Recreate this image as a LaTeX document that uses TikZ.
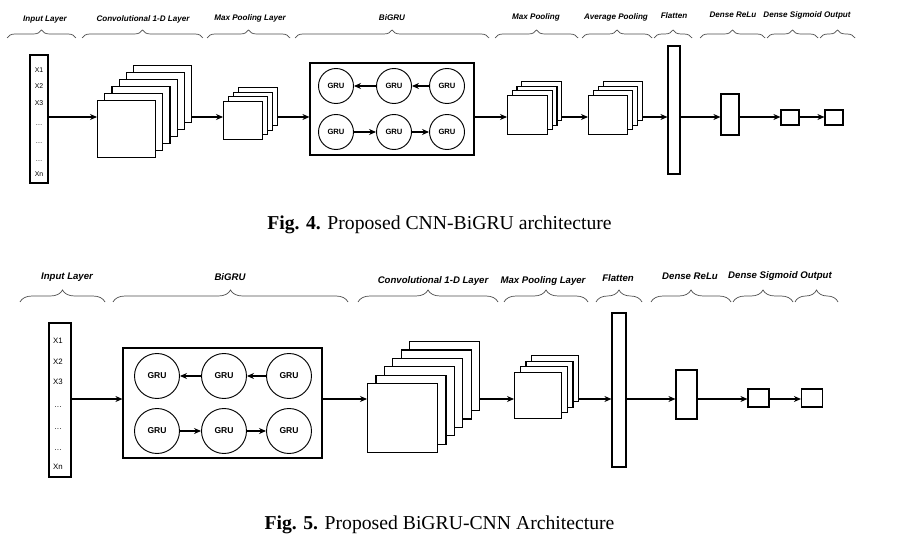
\documentclass[tikz,border=0pt]{standalone}
\usepackage{fontspec}
\setmainfont{Liberation Serif}
\setsansfont{Liberation Sans}
\usetikzlibrary{decorations.pathreplacing, arrows.meta}

\tikzset{
  layer/.style={draw, fill=white, line width=1pt, inner sep=0pt, anchor=north west},
  unit/.style={draw, line width=1pt, inner sep=0pt},
  gru/.style={draw, circle, line width=0.8pt, inner sep=0pt, font=\sffamily\bfseries\fontsize{#1}{#1}\selectfont},
  head/.style={font=\sffamily\bfseries\itshape\fontsize{#1}{#1}\selectfont},
  xin/.style={font=\sffamily\fontsize{#1}{#1}\selectfont},
  brc/.style={draw=black!70, line width=0.6pt, decorate, decoration={brace, amplitude=#1}},
  figcap/.style={font=\fontsize{16.8}{20}\selectfont}
}

\begin{document}
\begin{tikzpicture}[x=0.3mm, y=-0.3mm, >={Stealth[length=2.1mm, width=1.8mm]}, line width=0.9pt]
    \useasboundingbox (0,0) rectangle (907,552);

    % Fig. 4: CNN-BiGRU
    \coordinate (rowA) at (0,117);
    \node (hInA) [head=6.9] at (45,20) {Input Layer};
    \node (hConvA) [head=6.9] at (143,19) {Convolutional 1-D Layer};
    \node (hPoolA) [head=6.9] at (250,18) {Max Pooling Layer};
    \node (hGruA) [head=6.9] at (392,18) {BiGRU};
    \node (hMaxA) [head=6.9] at (536,17) {Max Pooling};
    \node (hAvgA) [head=6.9] at (616,17) {Average Pooling};
    \node (hFlatA) [head=6.9] at (674,16) {Flatten};
    \node (hReluA) [head=6.9] at (733,15) {Dense ReLu};
    \node (hOutA) [head=6.9] at (807,15) {Dense Sigmoid Output};
    \foreach \a/\b in {7/76, 82/203, 207/290, 295/489, 495/578, 582/652, 654/692, 700/765, 767/818, 820/855}
        \draw[brc=2.4mm] (\a,38) -- (\b,38);

    \node (inA) [unit, minimum width=5.4mm, minimum height=38.4mm] at (39,119) {};
    \foreach \t/\y [count=\k] in {X1/70, X2/86, X3/103, \ldots/125, \ldots/143, \ldots/161, Xn/174}
        \node (xA\k) [xin=5.9] at (39,\y) {\t};

    \foreach \i in {5,...,0}
        \node (convA\i) [layer, minimum width=17.4mm, minimum height=17.1mm] at (97+7.2*\i,100-7*\i) {};
    \foreach \i in {3,...,0}
        \node (poolA\i) [layer, minimum width=11.7mm, minimum height=11.4mm] at (223+5*\i,101-4.7*\i) {};

    \node (gruA) [unit, minimum width=49.2mm, minimum height=27.6mm] at (392,109) {};
    \node (gA1) [gru=6.5, minimum size=10.5mm] at (336,86) {GRU};
    \node (gA2) [gru=6.5, minimum size=10.5mm] at (394,86) {GRU};
    \node (gA3) [gru=6.5, minimum size=10.5mm] at (447,86) {GRU};
    \node (gA4) [gru=6.5, minimum size=10.5mm] at (336,132) {GRU};
    \node (gA5) [gru=6.5, minimum size=10.5mm] at (394,132) {GRU};
    \node (gA6) [gru=6.5, minimum size=10.5mm] at (447,132) {GRU};

    \foreach \i in {3,...,0}
        \node (maxA\i) [layer, minimum width=12mm, minimum height=11.7mm] at (507+4.7*\i,95-4.7*\i) {};
    \foreach \i in {3,...,0}
        \node (avgA\i) [layer, minimum width=11.7mm, minimum height=11.7mm] at (588+5*\i,95-4.7*\i) {};

    \node (flatA) [unit, minimum width=3.6mm, minimum height=38.4mm] at (674,110) {};
    \node (reluA) [unit, minimum width=5.4mm, minimum height=12.3mm] at (730,114.5) {};
    \node (sigA) [unit, minimum width=5.4mm, minimum height=4.5mm] at (790,117.5) {};
    \node (outA) [unit, minimum width=5.4mm, minimum height=4.5mm] at (834,117.5) {};

    \draw[->] (inA.east |- rowA) -- (convA0.west |- rowA);
    \draw[->] (convA5.east |- rowA) -- (poolA0.west |- rowA);
    \draw[->] (poolA3.east |- rowA) -- (gruA.west |- rowA);
    \draw[->] (gA3) -- (gA2);
    \draw[->] (gA2) -- (gA1);
    \draw[->] (gA4) -- (gA5);
    \draw[->] (gA5) -- (gA6);
    \draw[->] (gruA.east |- rowA) -- (maxA0.west |- rowA);
    \draw[->] (maxA3.east |- rowA) -- (avgA0.west |- rowA);
    \draw[->] (avgA3.east |- rowA) -- (flatA.west |- rowA);
    \draw[->] (flatA.east |- rowA) -- (reluA.west |- rowA);
    \draw[->] (reluA.east |- rowA) -- (sigA.west |- rowA);
    \draw[->] (sigA.east |- rowA) -- (outA.west |- rowA);

    \node (capA) [figcap] at (439.5,225) {\textbf{Fig. 4.} Proposed CNN-BiGRU architecture};

    % Fig. 5: BiGRU-CNN
    \coordinate (rowB) at (0,399);
    \node (hInB) [head=8.2] at (67,277) {Input Layer};
    \node (hGruB) [head=8.2] at (230,277) {BiGRU};
    \node (hConvB) [head=8.2] at (433,281) {Convolutional 1-D Layer};
    \node (hPoolB) [head=8.2] at (543,281) {Max Pooling Layer};
    \node (hFlatB) [head=8.2] at (618,278) {Flatten};
    \node (hReluB) [head=8.2] at (690,276) {Dense ReLu};
    \node (hOutB) [head=8.2] at (780,276) {Dense Sigmoid Output};
    \foreach \a/\b in {20/105, 113/348, 358/498, 504/588, 596/642, 651/731, 733/793, 795/838}
        \draw[brc=3.6mm] (\a,302) -- (\b,302);

    \node (inB) [unit, minimum width=6.6mm, minimum height=46.2mm] at (60,400) {};
    \foreach \t/\y [count=\k] in {X1/341, X2/362, X3/382, \ldots/407, \ldots/429, \ldots/450, Xn/467}
        \node (xB\k) [xin=6.7] at (58,\y) {\t};

    \node (gruB) [unit, minimum width=59.7mm, minimum height=33mm] at (222.5,403) {};
    \node (gB1) [gru=7.3, minimum size=13.5mm] at (157,376) {GRU};
    \node (gB2) [gru=7.3, minimum size=13.5mm] at (224,376) {GRU};
    \node (gB3) [gru=7.3, minimum size=13.5mm] at (289,376) {GRU};
    \node (gB4) [gru=7.3, minimum size=13.5mm] at (157,431) {GRU};
    \node (gB5) [gru=7.3, minimum size=13.5mm] at (224,431) {GRU};
    \node (gB6) [gru=7.3, minimum size=13.5mm] at (289,431) {GRU};

    \foreach \i in {5,...,0}
        \node (convB\i) [layer, minimum width=21mm, minimum height=20.7mm] at (367+8.4*\i,383-8.4*\i) {};
    \foreach \i in {3,...,0}
        \node (poolB\i) [layer, minimum width=14.1mm, minimum height=13.8mm] at (514+5.7*\i,372-5.7*\i) {};

    \node (flatB) [unit, minimum width=4.2mm, minimum height=46.2mm] at (619,390) {};
    \node (reluB) [unit, minimum width=6.3mm, minimum height=14.7mm] at (686.5,394.5) {};
    \node (sigB) [unit, minimum width=6.3mm, minimum height=5.4mm] at (758.5,398) {};
    \node (outB) [unit, minimum width=6.3mm, minimum height=5.4mm] at (812,398) {};

    \draw[->] (inB.east |- rowB) -- (gruB.west |- rowB);
    \draw[->] (gB3) -- (gB2);
    \draw[->] (gB2) -- (gB1);
    \draw[->] (gB4) -- (gB5);
    \draw[->] (gB5) -- (gB6);
    \draw[->] (gruB.east |- rowB) -- (convB0.west |- rowB);
    \draw[->] (convB5.east |- rowB) -- (poolB0.west |- rowB);
    \draw[->] (poolB3.east |- rowB) -- (flatB.west |- rowB);
    \draw[->] (flatB.east |- rowB) -- (reluB.west |- rowB);
    \draw[->] (reluB.east |- rowB) -- (sigB.west |- rowB);
    \draw[->] (sigB.east |- rowB) -- (outB.west |- rowB);

    \node (capB) [figcap] at (439.5,525) {\textbf{Fig. 5.} Proposed BiGRU-CNN Architecture};
\end{tikzpicture}
\end{document}
